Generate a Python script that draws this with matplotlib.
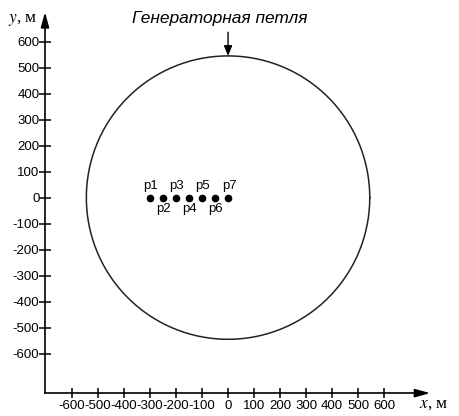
import numpy as np
import matplotlib.pyplot as plt

plt.rcParams['font.family'] = ['Liberation Sans', 'DejaVu Sans']
plt.rcParams['mathtext.fontset'] = 'stix'
plt.rcParams['axes.unicode_minus'] = False

# receiver points along the x axis, metres
point_names = ['p1', 'p2', 'p3', 'p4', 'p5', 'p6', 'p7']
point_x = [-300, -250, -200, -150, -100, -50, 0]
point_y = [0, 0, 0, 0, 0, 0, 0]

# generator loop
loop_radius = 545
loop_label = 'Генераторная петля'

x_ticks = [-600, -500, -400, -300, -200, -100, 0, 100, 200, 300, 400, 500, 600]
y_ticks = [600, 500, 400, 300, 200, 100, 0, -100, -200, -300, -400, -500, -600]

x_axis_at = -752   # y position of the drawn x axis
y_axis_at = -704   # x position of the drawn y axis
x_end = 777
y_end = 713

fig = plt.figure(figsize=(4.6, 4.16), dpi=100)
ax = fig.add_axes([0, 0, 1, 1])
ax.set_xlim(-877, 892)
ax.set_ylim(-840, 760)

# loop
t = np.linspace(0, 2 * np.pi, 400)
ax.plot(loop_radius * np.cos(t), loop_radius * np.sin(t), color='#222222', lw=1.1)

# points
ax.plot(point_x, point_y, 'o', color='black', markersize=4.5)
for i, (name, px, py) in enumerate(zip(point_names, point_x, point_y)):
    if i % 2 == 0:
        ax.annotate(name, (px, py), xytext=(1 if i == 6 else 0, 8),
                    textcoords='offset points', ha='center', va='center',
                    fontsize=9.5)
    else:
        ax.annotate(name, (px, py), xytext=(0, -8.5), textcoords='offset points',
                    ha='center', va='center', fontsize=9.5)

# axes with arrows
for s in ['top', 'right']:
    ax.spines[s].set_visible(False)
ax.spines['left'].set_position(('data', y_axis_at))
ax.spines['bottom'].set_position(('data', x_axis_at))
ax.spines['left'].set_bounds(x_axis_at, y_end - 20)
ax.spines['bottom'].set_bounds(y_axis_at, x_end - 20)
for s in ['left', 'bottom']:
    ax.spines[s].set_linewidth(1.2)
head = dict(arrowstyle='-|>,head_length=0.9,head_width=0.25', color='black',
            lw=1.2, mutation_scale=10, shrinkA=0, shrinkB=0)
ax.annotate('', xy=(y_axis_at, y_end), xytext=(y_axis_at, y_end - 60),
            arrowprops=head)
ax.annotate('', xy=(x_end, x_axis_at), xytext=(x_end - 60, x_axis_at),
            arrowprops=head)

ax.set_xticks(x_ticks)
ax.set_yticks(y_ticks)
ax.tick_params(axis='both', direction='inout', width=1.1, labelsize=9.5)
ax.tick_params(axis='y', length=8, pad=0)
ax.tick_params(axis='x', length=7, pad=1.5)

# labels
ax.text(-790, 685, '$y$, м', family='Liberation Serif', fontsize=12.5,
        ha='center', va='center')
ax.text(792, -792, '$x$, м', family='Liberation Serif', fontsize=12.5,
        ha='center', va='center')
ax.text(-31, 687, loop_label, style='italic', fontsize=12.5, ha='center', va='center')
ax.annotate('', xy=(0, loop_radius), xytext=(0, 636),
            arrowprops=dict(arrowstyle='-|>,head_length=0.6,head_width=0.25',
                            color='black', lw=1.0, mutation_scale=10,
                            shrinkA=0, shrinkB=0))

fig.savefig('out.png', dpi=100)
